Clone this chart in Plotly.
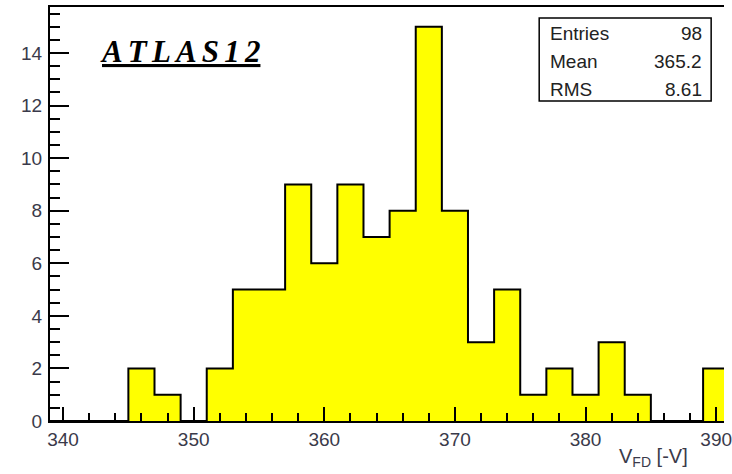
import plotly.graph_objects as go

# Histogram data (bins of width 2, from 339 to 391)
bin_edges = [339 + 2 * i for i in range(27)]
counts = [0, 0, 0, 2, 1, 0, 2, 5, 5, 9, 6, 9, 7, 8, 15, 8, 3, 5, 1, 2, 1, 3, 1, 0, 0, 2]

stats_labels = ["Entries", "Mean", "RMS"]
stats_values = ["98", "365.2", "8.61"]

x_title = "V<sub>FD</sub> [-V]"
label_text = "ATLAS12"

W, H = 732, 474
ml, mr, mt, mb = 50, 0, 7, 53

step_x = bin_edges
step_y = counts + [counts[-1]]

fig = go.Figure()
fig.add_trace(go.Scatter(
    x=step_x, y=step_y, mode="lines", line_shape="hv",
    line=dict(color="black", width=2),
    fill="tozeroy", fillcolor="#ffff00",
    hoverinfo="skip", showlegend=False,
))

x0 = 339
x1 = 390.6

tickfont = dict(family="Liberation Sans, Arial, sans-serif", size=19, color="#3a3a4a")

fig.update_layout(
    width=W, height=H,
    margin=dict(l=ml, r=mr, t=mt, b=mb),
    paper_bgcolor="white", plot_bgcolor="white",
    xaxis=dict(
        range=[x0, x1], showgrid=False, zeroline=False,
        showline=True, linecolor="black", linewidth=2, mirror=True,
        ticks="inside", tickcolor="black", ticklen=14, tickwidth=1.5,
        tick0=340, dtick=10, tickfont=tickfont, ticklabeloverflow="allow",
        ticklabelstandoff=0,
        minor=dict(ticks="inside", ticklen=8, tickcolor="black", dtick=2, tick0=340, showgrid=False),
    ),
    yaxis=dict(
        range=[0, 15.75], showgrid=False, zeroline=False,
        showline=True, linecolor="black", linewidth=2,
        ticks="inside", tickcolor="black", ticklen=19, tickwidth=1.5,
        tick0=0, dtick=2, tickfont=tickfont, ticklabelstandoff=2,
        minor=dict(ticks="inside", ticklen=10, tickcolor="black", dtick=0.5, tick0=0, showgrid=False),
    ),
)

def fx(px):
    return (px - ml) / (W - ml - mr)
def fy(py):
    return 1 - (py - mt) / (H - mt - mb)

# x-axis title at the right end
fig.add_annotation(
    x=fx(698), y=fy(472), xref="paper", yref="paper", text=x_title, showarrow=False,
    font=dict(family="Liberation Sans, Arial, sans-serif", size=20, color="#3a3a4a"),
    xanchor="right", yanchor="bottom",
)

# ATLAS12 label
sp = "\u2006"
fig.add_annotation(
    x=fx(99), y=fy(51),
    xref="paper", yref="paper", showarrow=False,
    text="<u>" + sp.join(label_text) + "</u>",
    font=dict(family="Liberation Serif, Times New Roman, serif", size=31, color="black", style="italic", weight="bold"),
    xanchor="left", yanchor="middle",
)

# Stats box
bx0, bx1, by0, by1 = 545, 719, 18, 101
fig.add_shape(type="rect", xref="paper", yref="paper",
              x0=fx(bx0), x1=fx(bx1), y0=fy(by1), y1=fy(by0),
              line=dict(color="black", width=1.5), fillcolor="white", layer="above")

row_y = [33, 61, 89]
statfont = dict(family="Liberation Sans, Arial, sans-serif", size=19, color="#222222")
for lab, val, ry in zip(stats_labels, stats_values, row_y):
    fig.add_annotation(x=fx(554), y=fy(ry), xref="paper", yref="paper", text=lab,
                       showarrow=False, xanchor="left", yanchor="middle", font=statfont)
    fig.add_annotation(x=fx(712), y=fy(ry), xref="paper", yref="paper", text=val,
                       showarrow=False, xanchor="right", yanchor="middle", font=statfont)

fig.write_html("out.html")
